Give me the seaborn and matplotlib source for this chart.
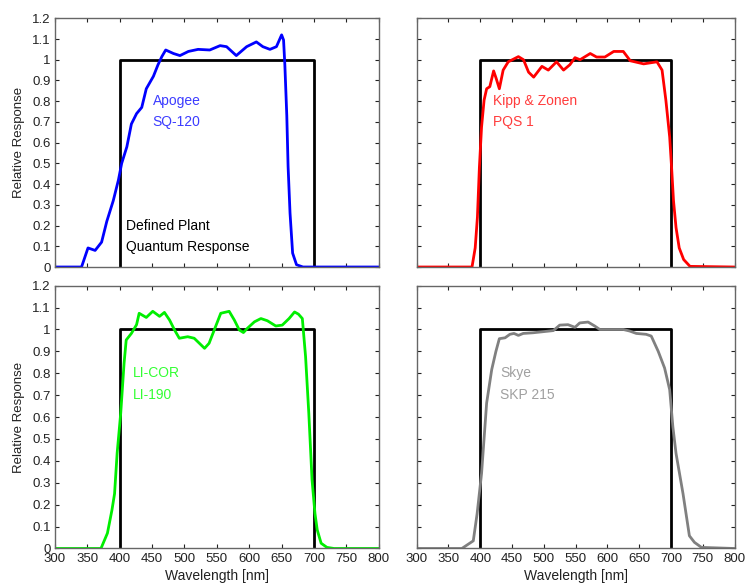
import matplotlib
matplotlib.use("Agg")
import matplotlib.pyplot as plt
import matplotlib.ticker as mticker
import seaborn as sns
import pandas as pd

# wavelengths (nm) and relative response
apogee_wl = [300, 341, 351, 362, 372, 380, 390, 398, 403, 411, 418, 426, 434, 441, 452,
             459, 465, 471, 483, 493, 506, 521, 539, 555, 565, 580, 596, 611, 621, 632,
             642, 650, 653, 655, 658, 660, 663, 667, 673, 683, 800]
apogee_resp = [0, 0, 0.092, 0.08, 0.12, 0.22, 0.32, 0.42, 0.50, 0.58, 0.69, 0.74, 0.77, 0.86, 0.92,
               0.975, 1.015, 1.047, 1.03, 1.02, 1.04, 1.05, 1.047, 1.068, 1.063, 1.02, 1.063, 1.086,
               1.063, 1.05, 1.063, 1.12, 1.095, 0.975, 0.73, 0.485, 0.26, 0.067, 0.011, 0.0, 0]

kipp_wl = [300, 387, 392, 395.5, 398.6, 402, 406, 410, 415, 421, 425, 430, 436, 444, 460,
           468, 476, 484, 497, 507, 520, 531, 541, 549, 557, 573, 583, 596, 610, 625, 636,
           657, 678, 686, 692, 698, 701, 704, 708, 713, 720, 730, 800]
kipp_resp = [0, 0, 0.092, 0.24, 0.48, 0.675, 0.805, 0.86, 0.87, 0.946, 0.91, 0.86, 0.95, 0.99, 1.015,
             1.0, 0.94, 0.916, 0.968, 0.95, 0.99, 0.95, 0.976, 1.01, 1.0, 1.03, 1.013, 1.013, 1.04,
             1.04, 0.995, 0.98, 0.99, 0.95, 0.805, 0.627, 0.48, 0.32, 0.19, 0.092, 0.036, 0.003, 0]

licor_wl = [300, 371, 381, 388, 392, 396, 401.5, 406.7, 410, 418, 426, 430, 441, 451, 461.5,
            469, 477, 484.6, 492, 505, 515, 531, 538, 546, 556, 569, 577, 584.6, 591, 597,
            608, 618, 628, 641, 651, 661.5, 670, 676, 682, 687, 692, 697, 701.5, 705, 711,
            720, 731, 800]
licor_resp = [0, 0, 0.07, 0.176, 0.25, 0.435, 0.617, 0.846, 0.952, 0.982, 1.022, 1.074, 1.055, 1.083,
              1.06, 1.078, 1.043, 0.998, 0.96, 0.967, 0.96, 0.914, 0.937, 0.998, 1.074, 1.083, 1.043,
              0.998, 0.986, 1.005, 1.035, 1.05, 1.04, 1.016, 1.02, 1.05, 1.08, 1.07, 1.05, 0.876,
              0.617, 0.313, 0.16, 0.085, 0.024, 0.005, 0, 0]

skye_wl = [300, 371, 389, 395, 402, 410, 418, 424.6, 430, 439, 446.6, 453, 460, 467.5, 483,
           499, 515, 525, 538, 549, 556.5, 569.6, 580, 588, 625, 635, 645.5, 661, 669, 680,
           690, 698, 703, 708, 719, 729, 737, 748, 800]
skye_resp = [0, 0, 0.035, 0.158, 0.342, 0.664, 0.817, 0.90, 0.958, 0.962, 0.978, 0.982, 0.973, 0.982,
             0.985, 0.99, 0.995, 1.02, 1.022, 1.01, 1.03, 1.034, 1.016, 1.0, 1.0, 0.993, 0.982, 0.978,
             0.97, 0.90, 0.824, 0.725, 0.556, 0.434, 0.25, 0.058, 0.028, 0.005, 0]

# defined plant quantum response (box 400-700 nm)
plant_wl = [400, 400, 700, 700]
plant_resp = [0, 1, 1, 0]

x_ticks = [300, 350, 400, 450, 500, 550, 600, 650, 700, 750, 800]
y_ticks = [0, 0.1, 0.2, 0.3, 0.4, 0.5, 0.6, 0.7, 0.8, 0.9, 1.0, 1.1, 1.2]

panels = [
    ("Apogee", "SQ-120", apogee_wl, apogee_resp, "#0000ff", "#3c3cff", 451),
    ("Kipp & Zonen", "PQS 1", kipp_wl, kipp_resp, "#ff0000", "#ff3c3c", 420),
    ("LI-COR", "LI-190", licor_wl, licor_resp, "#00ee00", "#33ff33", 420.5),
    ("Skye", "SKP 215", skye_wl, skye_resp, "#808080", "#a0a0a0", 431),
]

sns.set_style("ticks")
plt.rcParams["font.family"] = ["Liberation Sans", "DejaVu Sans"]

fig = plt.figure(figsize=(7.46, 5.84), dpi=100)

boxes = [
    [0.0737, 0.5428, 0.434, 0.4259],
    [0.5586, 0.5428, 0.426, 0.4259],
    [0.0737, 0.0608, 0.434, 0.450],
    [0.5586, 0.0608, 0.426, 0.450],
]

for i, (name, model, wl, resp, col, tcol, tx) in enumerate(panels):
    ax = fig.add_axes(boxes[i])

    sns.lineplot(
        x=plant_wl,
        y=plant_resp,
        color="black",
        linewidth=2.0,
        sort=False,
        estimator=None,
        ax=ax
    )

    df = pd.DataFrame({"wl": wl, "resp": resp})
    sns.lineplot(
        data=df,
        x="wl",
        y="resp",
        color=col,
        linewidth=2.0,
        sort=False,
        estimator=None,
        ax=ax
    )

    ax.set_xlim(300, 800)
    ax.set_ylim(0, 1.2)
    ax.set_xticks(x_ticks)
    ax.set_yticks(y_ticks)
    ax.yaxis.set_major_formatter(mticker.FormatStrFormatter("%g"))
    ax.tick_params(direction="in", length=3, width=0.8, top=True, right=True,
                   labelsize=9.5, colors="#222222", pad=3)
    for s in ax.spines.values():
        s.set_color("#666666")
        s.set_linewidth(1.0)

    ax.text(tx, 0.80, name, color=tcol, fontsize=10, va="center", ha="left")
    ax.text(tx, 0.70, model, color=tcol, fontsize=10, va="center", ha="left")

    if i == 0:
        ax.text(409.6, 0.196, "Defined Plant", color="black", fontsize=10, va="center")
        ax.text(409.6, 0.096, "Quantum Response", color="black", fontsize=10, va="center")

    if i % 2 == 0:
        ax.set_ylabel("Relative Response", fontsize=9.5, color="#222222", labelpad=5)
    else:
        ax.set_ylabel("")
        ax.set_yticklabels([])

    if i >= 2:
        ax.set_xlabel("Wavelength [nm]", fontsize=10, color="#222222", labelpad=3)
    else:
        ax.set_xlabel("")
        ax.set_xticklabels([])

plt.savefig("out.png", dpi=100)
plt.close()
